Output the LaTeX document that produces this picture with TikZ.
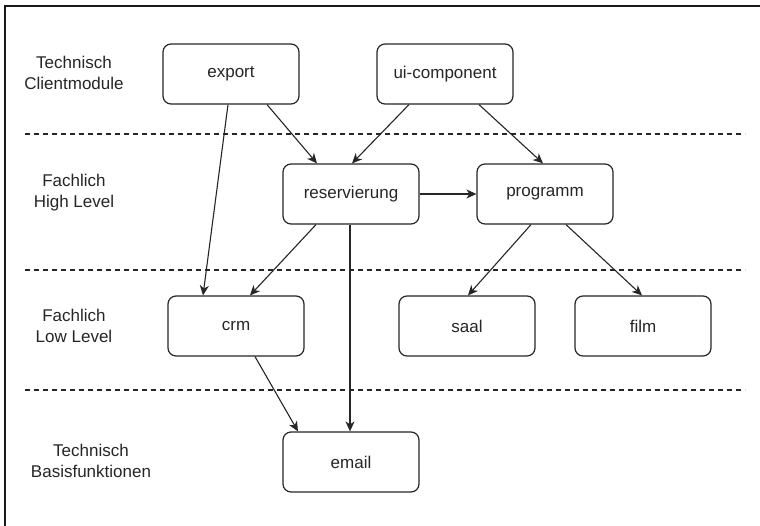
\documentclass[tikz,border=0pt]{standalone}
\usepackage{fontspec}
\setmainfont{Liberation Sans}
\usetikzlibrary{arrows.meta}
\begin{document}
\begin{tikzpicture}[x=1pt,y=-1pt,
  modbox/.style={draw=black!85, line width=1.2pt, rounded corners=8pt,
    minimum width=136pt, minimum height=60pt, inner sep=0pt,
    font=\fontsize{17}{20}\selectfont, text=black!85},
  layerlabel/.style={align=center, font=\fontsize{17}{21}\selectfont, text=black!85},
  dep/.style={draw=black!85, line width=1.1pt, -{Stealth[length=10pt,width=9pt,inset=3pt]}},
  sep/.style={draw=black!85, line width=1.1pt, dash pattern=on 5pt off 4pt}]
  \useasboundingbox (0,0) rectangle (760,526);
  \fill[white] (0,0) rectangle (760,526);
  % outer frame (only top and left edges are visible)
  \draw[black!90, line width=2pt] (5,526) -- (5,6) -- (760,6);

  % layer separators
  \draw[sep] (25,134) -- (745,134);
  \draw[sep] (25,270) -- (745,270);
  \draw[sep] (25,390) -- (745,390);

  % layer labels
  \node[layerlabel] (l1) at (74,73)  {Technisch\\Clientmodule};
  \node[layerlabel] (l2) at (74,193) {Fachlich\\High Level};
  \node[layerlabel] (l3) at (74,326) {Fachlich\\Low Level};
  \node[layerlabel] (l4) at (91,461) {Technisch\\Basisfunktionen};

  % modules
  \node[modbox] (export) at (231,74)  {export};
  \node[modbox] (ui)     at (445,74)  {ui-component};
  \node[modbox] (res)    at (351,194) {reservierung};
  \node[modbox] (prog)   at (545,194) {programm};
  \node[modbox] (crm)    at (236,326) {crm};
  \node[modbox] (saal)   at (467,326) {saal};
  \node[modbox] (film)   at (643,326) {film};
  \node[modbox] (email)  at (351,462) {email};

  % dependencies
  \draw[dep] ([xshift=-3pt]export.south) -- ([xshift=-33pt]crm.north);
  \draw[dep] ([xshift=36pt]export.south) -- ([xshift=-34pt]res.north);
  \draw[dep] ([xshift=-36pt]ui.south) -- ([xshift=1pt]res.north);
  \draw[dep] ([xshift=34pt]ui.south) -- ([xshift=-2pt]prog.north);
  \draw[dep] (res.east) -- (prog.west);
  \draw[dep] ([xshift=-35pt]res.south) -- ([xshift=14pt]crm.north);
  \draw[dep] ([xshift=-1pt]res.south) -- ([xshift=-1pt]email.north);
  \draw[dep] ([xshift=-14pt]prog.south) -- ([xshift=1pt]saal.north);
  \draw[dep] ([xshift=21pt]prog.south) -- ([xshift=-1pt]film.north);
  \draw[dep] ([xshift=19pt]crm.south) -- ([xshift=-53pt]email.north);
\end{tikzpicture}
\end{document}
